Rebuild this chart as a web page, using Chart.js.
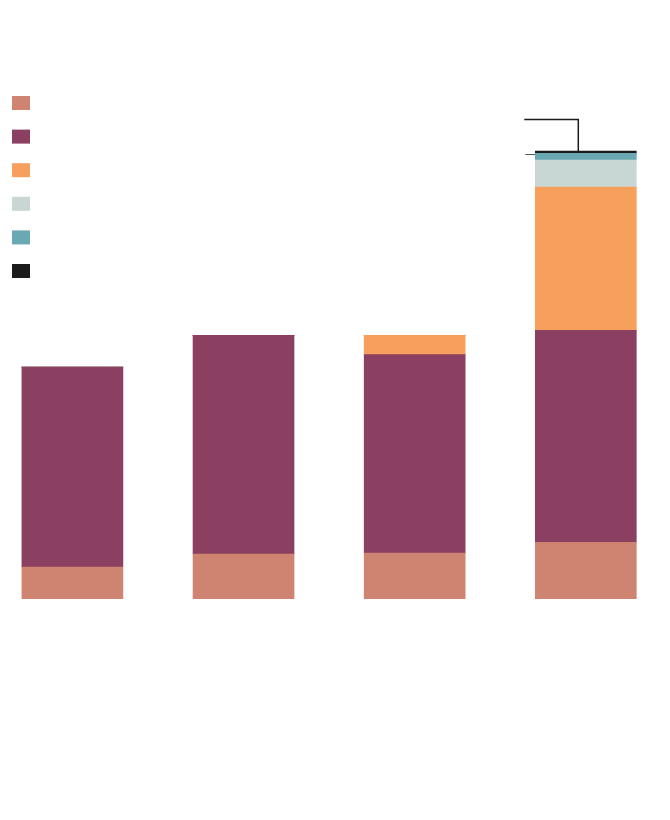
<!DOCTYPE html>
<html>
<head>
<meta charset="utf-8">
<script src="https://cdn.jsdelivr.net/npm/chart.js@4"></script>
<style>
  html, body { margin: 0; padding: 0; background: #fff; }
  #wrap { width: 670px; height: 820px; position: relative; }
</style>
</head>
<body>
<div id="wrap"><canvas id="chart" width="670" height="820"></canvas></div>
<script>
// data (arbitrary units)
const categories = ['1', '2', '3', '4'];
const seriesNames = ['s1', 's2', 's3', 's4', 's5', 's6'];
const seriesColors = ['#ce8470', '#8b3f61', '#f79f5d', '#c9d7d4', '#6aa9b3', '#1b1b1b'];
const s1 = [31.7, 44.7, 45.7, 56.4];
const s2 = [200, 218.7, 198.3, 212];
const s3 = [0, 0, 19.4, 143.3];
const s4 = [0, 0, 0, 27];
const s5 = [0, 0, 0, 6.7];
const s6 = [0, 0, 0, 2.3];
const yMax = 500;

const allSeries = [s1, s2, s3, s4, s5, s6];

// legend swatches, no text
const legendBoxes = {
    id: 'legendBoxes',
    afterDraw(chart) {
        const ctx = chart.ctx;
        seriesColors.forEach((c, i) => {
            ctx.fillStyle = c;
            ctx.fillRect(12, 96 + i * 33.6, 18, 14);
        });
    }
};

// callout line to the top of the last bar
const callout = {
    id: 'callout',
    afterDatasetsDraw(chart) {
        const meta = chart.getDatasetMeta(5);
        const bar = meta.data[3];
        const ctx = chart.ctx;
        const x = bar.x - 7.5;
        const top = bar.y;
        ctx.save();
        ctx.strokeStyle = '#1b1b1b';
        ctx.lineWidth = 1.5;
        ctx.beginPath();
        ctx.moveTo(bar.x - 61.5, top - 31.5);
        ctx.lineTo(x, top - 31.5);
        ctx.lineTo(x, top);
        ctx.stroke();
        ctx.strokeStyle = '#555';
        ctx.lineWidth = 1;
        ctx.beginPath();
        ctx.moveTo(bar.x - 60.5, top + 3.5);
        ctx.lineTo(bar.x - 50.5, top + 3.5);
        ctx.stroke();
        ctx.restore();
    }
};

new Chart(document.getElementById('chart').getContext('2d'), {
    type: 'bar',
    data: {
        labels: categories,
        datasets: allSeries.map((d, i) => ({
            label: seriesNames[i],
            data: d,
            backgroundColor: seriesColors[i],
            borderWidth: 0,
            barThickness: 101,
            clip: false
        }))
    },
    options: {
        responsive: false,
        animation: false,
        layout: { padding: { left: 72.4, right: 84.2, top: 98.7, bottom: 221.3 } },
        plugins: { legend: { display: false }, tooltip: { enabled: false } },
        scales: {
            x: { stacked: true, offset: false, display: false },
            y: { stacked: true, min: 0, max: yMax, display: false }
        }
    },
    plugins: [legendBoxes, callout]
});
</script>
</body>
</html>
